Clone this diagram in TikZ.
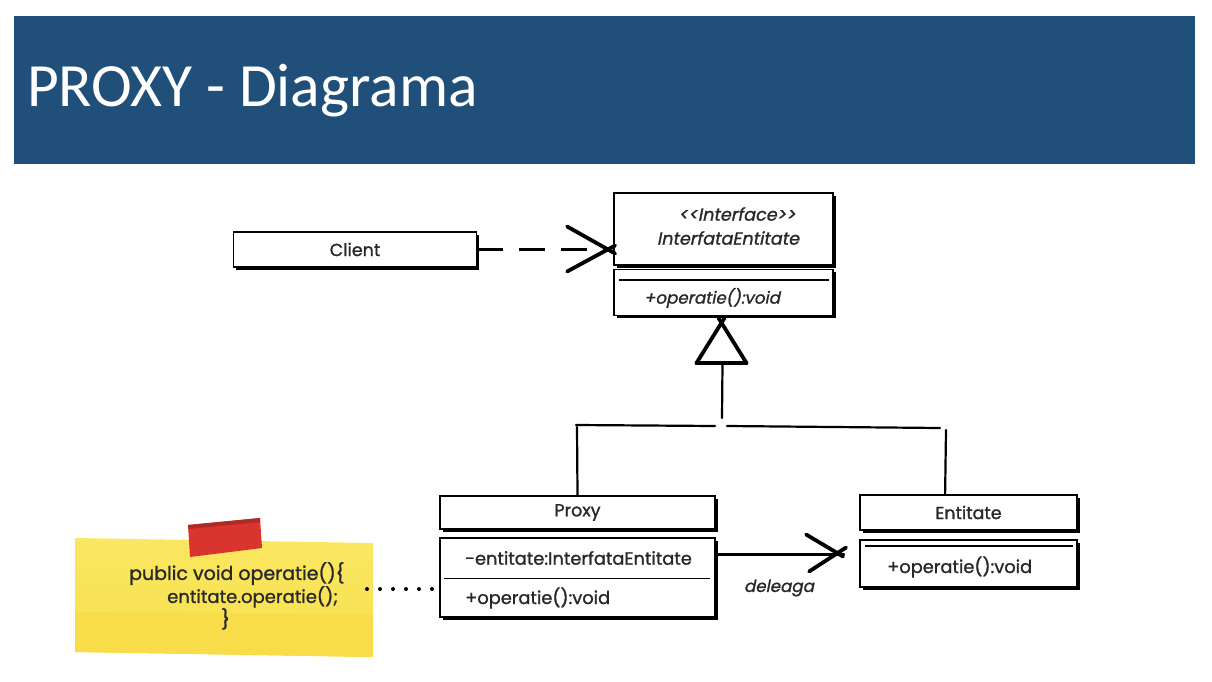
\documentclass[tikz,border=0pt]{standalone}
\usepackage{fontspec}
\setmainfont{Carlito}
\newfontfamily\sketch[FakeBold=1.2, Ligatures=TeXOff]{Poppins}
\newfontfamily\sketchit[FakeSlant=0.2, FakeBold=1.2, Ligatures=TeXOff]{Poppins}
\usetikzlibrary{shadows,calc}
\definecolor{titleblue}{RGB}{32,79,121}
\definecolor{noteyellow}{RGB}{248,224,76}
\definecolor{notelight}{RGB}{250,231,98}
\definecolor{tapered}{RGB}{218,52,46}
\definecolor{inkgray}{RGB}{40,40,40}
\tikzset{
  umlbox/.style={draw, fill=white, line width=1.8pt, inner sep=0pt,
    font=\sketch\fontsize{17.5}{21}\selectfont, text=inkgray,
    general shadow={fill=black, shadow xshift=2.6pt, shadow yshift=-2.6pt}},
  member/.style={inner sep=0pt, anchor=west, text=inkgray,
    font=\sketch\fontsize{17.8}{20}\selectfont},
  imember/.style={inner sep=0pt, text=inkgray,
    font=\sketchit\fontsize{16.7}{19}\selectfont},
  sep/.style={line width=1.8pt},
  ink/.style={line width=2.2pt, line cap=round},
  tip/.style={line width=3.8pt, line cap=round},
}
\begin{document}
\begin{tikzpicture}[x=1pt,y=-1pt]
\useasboundingbox (0,0) rectangle (1212,682);

% title bar
\fill[titleblue] (14,16) rectangle (1195,164);
\node[anchor=base west, inner sep=0pt, text=white,
  font=\fontsize{61.5}{70}\selectfont] (title) at (27,107) {PROXY - Diagrama};

% interface
\node[umlbox, minimum width=219pt, minimum height=72pt] (ifaceTop) at (723.5,229) {};
\node[imember, font=\sketchit\fontsize{17.6}{20}\selectfont] (stereo) at (737,214) {<<Interface>>};
\node[imember, font=\sketchit\fontsize{17.6}{20}\selectfont] (ifname) at (728,238) {InterfataEntitate};
\node[umlbox, minimum width=219pt, minimum height=46pt] (ifaceBot) at (723.5,292.5) {};
\draw[sep] ($(ifaceBot.north west)+(6,11)$) -- ($(ifaceBot.north east)+(-5,11)$);
\node[imember] (ifop) at (712,298) {+operatie():void};

% client
\node[umlbox, minimum width=243pt, minimum height=35pt] (client) at (355,249.5) {Client};

% proxy
\node[umlbox, minimum width=275pt, minimum height=33pt] (proxyH) at (577.5,512.5) {Proxy};
\node[umlbox, minimum width=275pt, minimum height=79pt] (proxyB) at (577.5,577.5) {};
\draw[sep] ($(proxyB.west)+(5,1)$) -- ($(proxyB.east)+(-6,1)$);
\node[member] (pattr) at (465,558) {-entitate:InterfataEntitate};
\node[member] (pop) at (465,598) {+operatie():void};

% entitate
\node[umlbox, minimum width=217pt, minimum height=35pt] (entH) at (968.5,512.5) {Entitate};
\node[umlbox, minimum width=217pt, minimum height=47pt] (entB) at (968.5,563.5) {};
\draw[sep] ($(entB.north west)+(6,7)$) -- ($(entB.north east)+(-5,7)$);
\node[member] (eop) at (887,567) {+operatie():void};

% dependency client -> interface
\coordinate (depTip) at (client.east -| ifaceTop.west);
\draw[ink, line cap=butt, dash pattern=on 26pt off 16pt] (client.east) -- ($(depTip)+(-2,0)$);
\draw[tip] ($(depTip)+(-46,-23)$) -- ($(depTip)+(2,4)$);
\draw[tip] ($(depTip)+(-46,22)$) -- ($(depTip)+(2,-4)$);

% generalization
\coordinate (apex) at (721.5,322);
\coordinate (junction) at (722,426);
\draw[tip] ($(apex)+(-25,41)$) -- ($(apex)+(3,-4)$);
\draw[tip] ($(apex)+(25,41)$) -- ($(apex)+(-3,-4)$);
\draw[tip] ($(apex)+(-25,41)$) -- ($(apex)+(25,41)$);
\draw[ink] ($(apex)+(1,41)$) -- ($(junction)+(0,-8)$);
\draw[ink] ($(junction)+(-146,-1)$) -- ($(junction)+(-7,0)$);
\draw[ink] ($(junction)+(5,0)$) -- ($(junction)+(218,2)$);
\draw[ink] ($(junction)+(-145,1)$) -- (proxyH.north);
\draw[ink] ($(junction)+(224,4)$) -- ($(entH.north west)+(86,0)$);

% delegation proxy -> entitate
\coordinate (delStart) at ($(proxyB.north east)+(0,17)$);
\coordinate (delTip) at ($(entB.west)+(-15,-9)$);
\draw[ink] (delStart) -- (delTip -| delStart) -- (delTip);
\draw[tip] ($(delTip)+(-38,-20)$) -- ($(delTip)+(-1,2)$);
\draw[tip] ($(delTip)+(-35,17)$) -- ($(delTip)+(2,-7)$);
\node[imember] (dlabel) at (779,588) {deleaga};

% sticky note with tape
\shade[top color=notelight, bottom color=noteyellow]
  (75,538) -- (373,543) -- (373,657) -- (75,652) -- cycle;
\fill[noteyellow!96!orange] (75,612) -- (373,614) -- (373,657) -- (75,652) -- cycle;
\fill[tapered] (188,525) -- (260,518) -- (262,548) -- (190,557) -- cycle;
\fill[tapered!80!black] (188,525) -- (260,518) -- (260,522) -- (188,529) -- cycle;
\node[inner sep=0pt, align=left, text=inkgray, font=\sketch\fontsize{19}{23}\selectfont,
  anchor=north west] (note) at (129,562)
  {public void operatie()\{\\\hspace*{38pt}{\fontsize{18}{23}\selectfont entitate.operatie();}\\\hspace*{92pt}\}};
\coordinate (noteEdge) at (367,589);
\draw[line width=4pt, line cap=round, dash pattern=on 0pt off 13pt]
  (noteEdge) -- (noteEdge -| proxyB.west);
\end{tikzpicture}
\end{document}
